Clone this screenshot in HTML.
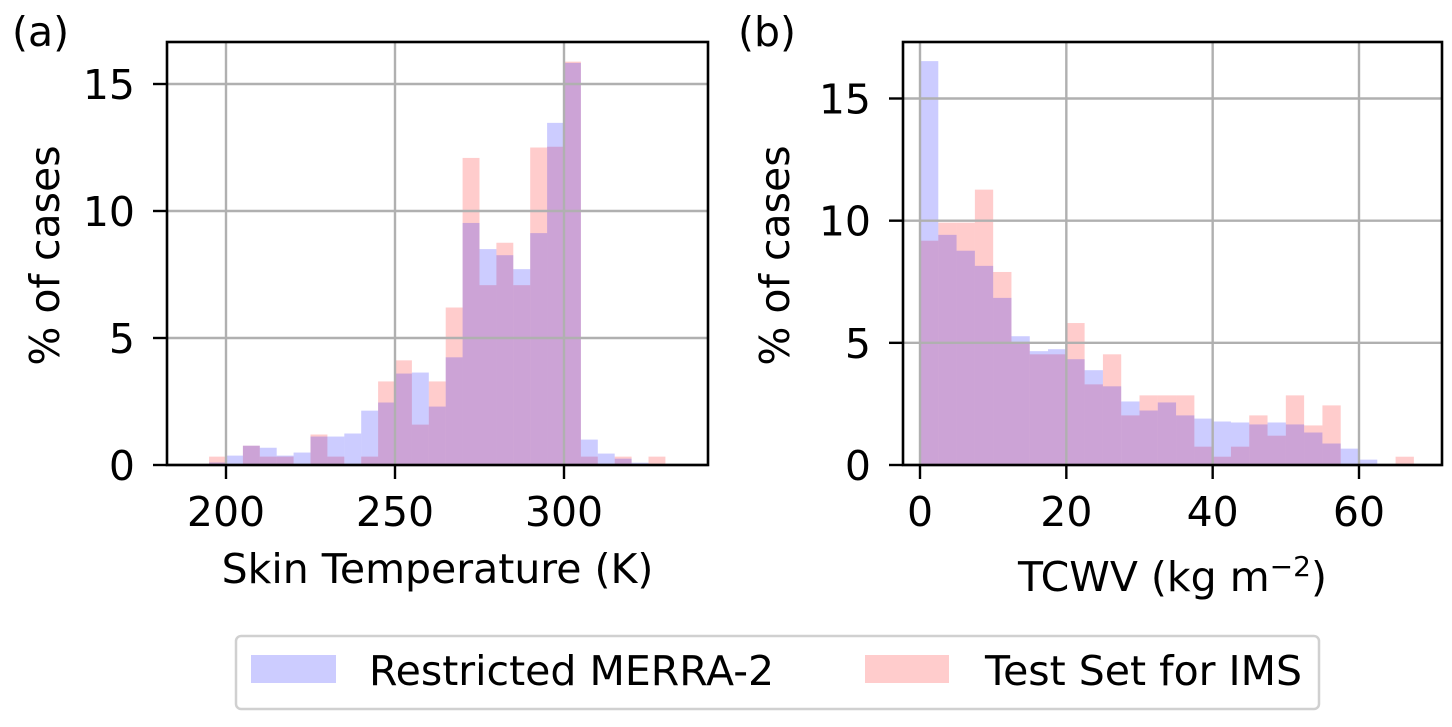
<!DOCTYPE html>
<html><head><meta charset="utf-8"><style>
body{margin:0;background:#fff}
svg{display:block;font-family:"DejaVu Sans","Liberation Sans",sans-serif}
</style></head><body>
<svg id="chart" width="1452" height="727" viewBox="0 0 1452 727" xmlns="http://www.w3.org/2000/svg"></svg>
<script>
const skinBinStart = 195, skinBinWidth = 5;
const skinBlue = [0.1,0.37,0.76,0.68,0.37,0.49,1.12,1.12,1.24,2.14,2.46,3.6,3.64,2.3,4.24,9.53,8.5,8.26,7.71,9.13,13.47,15.83,1.0,0.45,0.25,0.09,0];
const skinRed  = [0.33,0,0.76,0.33,0.33,0,1.2,0.33,0,0.33,3.29,4.12,1.59,3.29,6.2,12.09,7.08,8.75,7.08,12.5,12.53,15.88,0.33,0,0.33,0,0.33];
const tcwvBinStart = 0, tcwvBinWidth = 2.5;
const tcwvBlue = [16.53,9.42,8.77,8.15,6.84,5.27,4.66,4.74,4.33,3.88,3.22,2.6,2.23,2.56,2.03,1.9,1.78,1.74,1.66,1.74,1.66,1.33,0.88,0.67,0.22,0.02,0];
const tcwvRed  = [9.18,9.92,9.92,11.27,7.9,5.03,4.53,4.53,5.81,3.3,4.53,2.03,2.85,2.85,2.85,0.75,0.34,0.75,2.03,1.2,2.85,1.62,2.44,0,0,0,0.34];
const skinXTicks = [200,250,300];
const tcwvXTicks = [0,20,40,60];
const yTicks = [0,5,10,15];

const NS = "http://www.w3.org/2000/svg";
const svg = document.getElementById('chart');
function mk(tag, attrs, parent){const e=document.createElementNS(NS,tag);for(const k in attrs)e.setAttribute(k,attrs[k]);(parent||svg).appendChild(e);return e;}
const FS = 41;

function panel(cfg){
  const g = mk('g',{});
  
  
  const X = v => cfg.px0 + (v - cfg.v0) * (cfg.px1 - cfg.px0) / (cfg.v1 - cfg.v0);
  const Y = v => cfg.py0 + (v) * (cfg.py15 - cfg.py0) / 15;
  [[cfg.red,'rgba(255,0,0,0.2)','bar-test-set'],[cfg.blue,'rgba(0,0,255,0.2)','bar-merra2']].forEach(([arr,col,nm])=>{
    arr.forEach((v,i)=>{ if(v<=0) return;
      const x0=X(cfg.binStart+i*cfg.binWidth), x1=X(cfg.binStart+(i+1)*cfg.binWidth);
      const r=mk('rect',{x:x0,y:Y(v),width:x1-x0,height:Y(0)-Y(v),fill:col},g);
      
      
    });
  });
  cfg.xticks.forEach(t=>{const l=mk('line',{x1:X(t),x2:X(t),y1:cfg.top,y2:cfg.bottom,stroke:'#b0b0b0','stroke-width':2.4},g);
    });
  yTicks.forEach(t=>{const l=mk('line',{x1:cfg.left,x2:cfg.right,y1:Y(t),y2:Y(t),stroke:'#b0b0b0','stroke-width':2.4},g);
    });
  const fr=mk('rect',{x:cfg.left,y:cfg.top,width:cfg.right-cfg.left,height:cfg.bottom-cfg.top,fill:'none',stroke:'#000','stroke-width':2.6},g);
  
  cfg.xticks.forEach(t=>{
    mk('line',{x1:X(t),x2:X(t),y1:cfg.bottom,y2:cfg.bottom+14,stroke:'#000','stroke-width':2.4},g);
    const tx=mk('text',{x:X(t),y:cfg.bottom+61,'font-size':FS,'text-anchor':'middle'},g);
    tx.textContent=t;
  });
  yTicks.forEach(t=>{
    mk('line',{x1:cfg.left-14,x2:cfg.left,y1:Y(t),y2:Y(t),stroke:'#000','stroke-width':2.4},g);
    const tx=mk('text',{x:cfg.left-32,y:Y(t)+15,'font-size':FS,'text-anchor':'end'},g);
    tx.textContent=t;
  });
  const yl=mk('text',{x:0,y:0,'font-size':FS,'text-anchor':'middle',transform:`translate(${cfg.ylabX},${(cfg.top+cfg.bottom)/2+2}) rotate(-90)`},g);
  yl.textContent='% of cases';
  const xl=mk('text',{x:(cfg.left+cfg.right)/2,y:cfg.xlabY,'font-size':FS,'text-anchor':'middle'},g);
  xl.innerHTML=cfg.xlabel;
  const pl=mk('text',{x:cfg.plX,y:46,'font-size':FS,'text-anchor':'start'},g);
  pl.textContent=cfg.plabel;
}

panel({name:'skin-temperature-panel',left:167,right:708,top:42,bottom:465,px0:226,px1:564,v0:200,v1:300,py0:465,py15:84,
  xticks:skinXTicks,binStart:skinBinStart,binWidth:skinBinWidth,blue:skinBlue,red:skinRed,ylabX:59,xlabY:583,
  xlabel:'Skin Temperature (K)',plX:12,plabel:'(a)'});
panel({name:'tcwv-panel',left:903,right:1442,top:42,bottom:465,px0:920,px1:1359,v0:0,v1:60,py0:465,py15:98.5,
  xticks:tcwvXTicks,binStart:tcwvBinStart,binWidth:tcwvBinWidth,blue:tcwvBlue,red:tcwvRed,ylabX:789,xlabY:591,
  xlabel:'TCWV (kg m<tspan font-size="28" dy="-15">−2</tspan><tspan dy="15">)</tspan>',plX:738,plabel:'(b)'});

const lg=mk('g',{});


mk('rect',{x:236,y:636,width:1083,height:73,rx:5,fill:'#fff',stroke:'#d0d0d0','stroke-width':2.5},lg);
const p1=mk('rect',{x:251,y:655,width:85,height:28,fill:'rgba(0,0,255,0.2)'},lg);

const t1=mk('text',{x:369,y:685,'font-size':FS},lg);t1.textContent='Restricted MERRA-2';

const p2=mk('rect',{x:865,y:655,width:84,height:28,fill:'rgba(255,0,0,0.2)'},lg);

const t2=mk('text',{x:985,y:685,'font-size':FS},lg);t2.textContent='Test Set for IMS';

</script>
</body></html>
